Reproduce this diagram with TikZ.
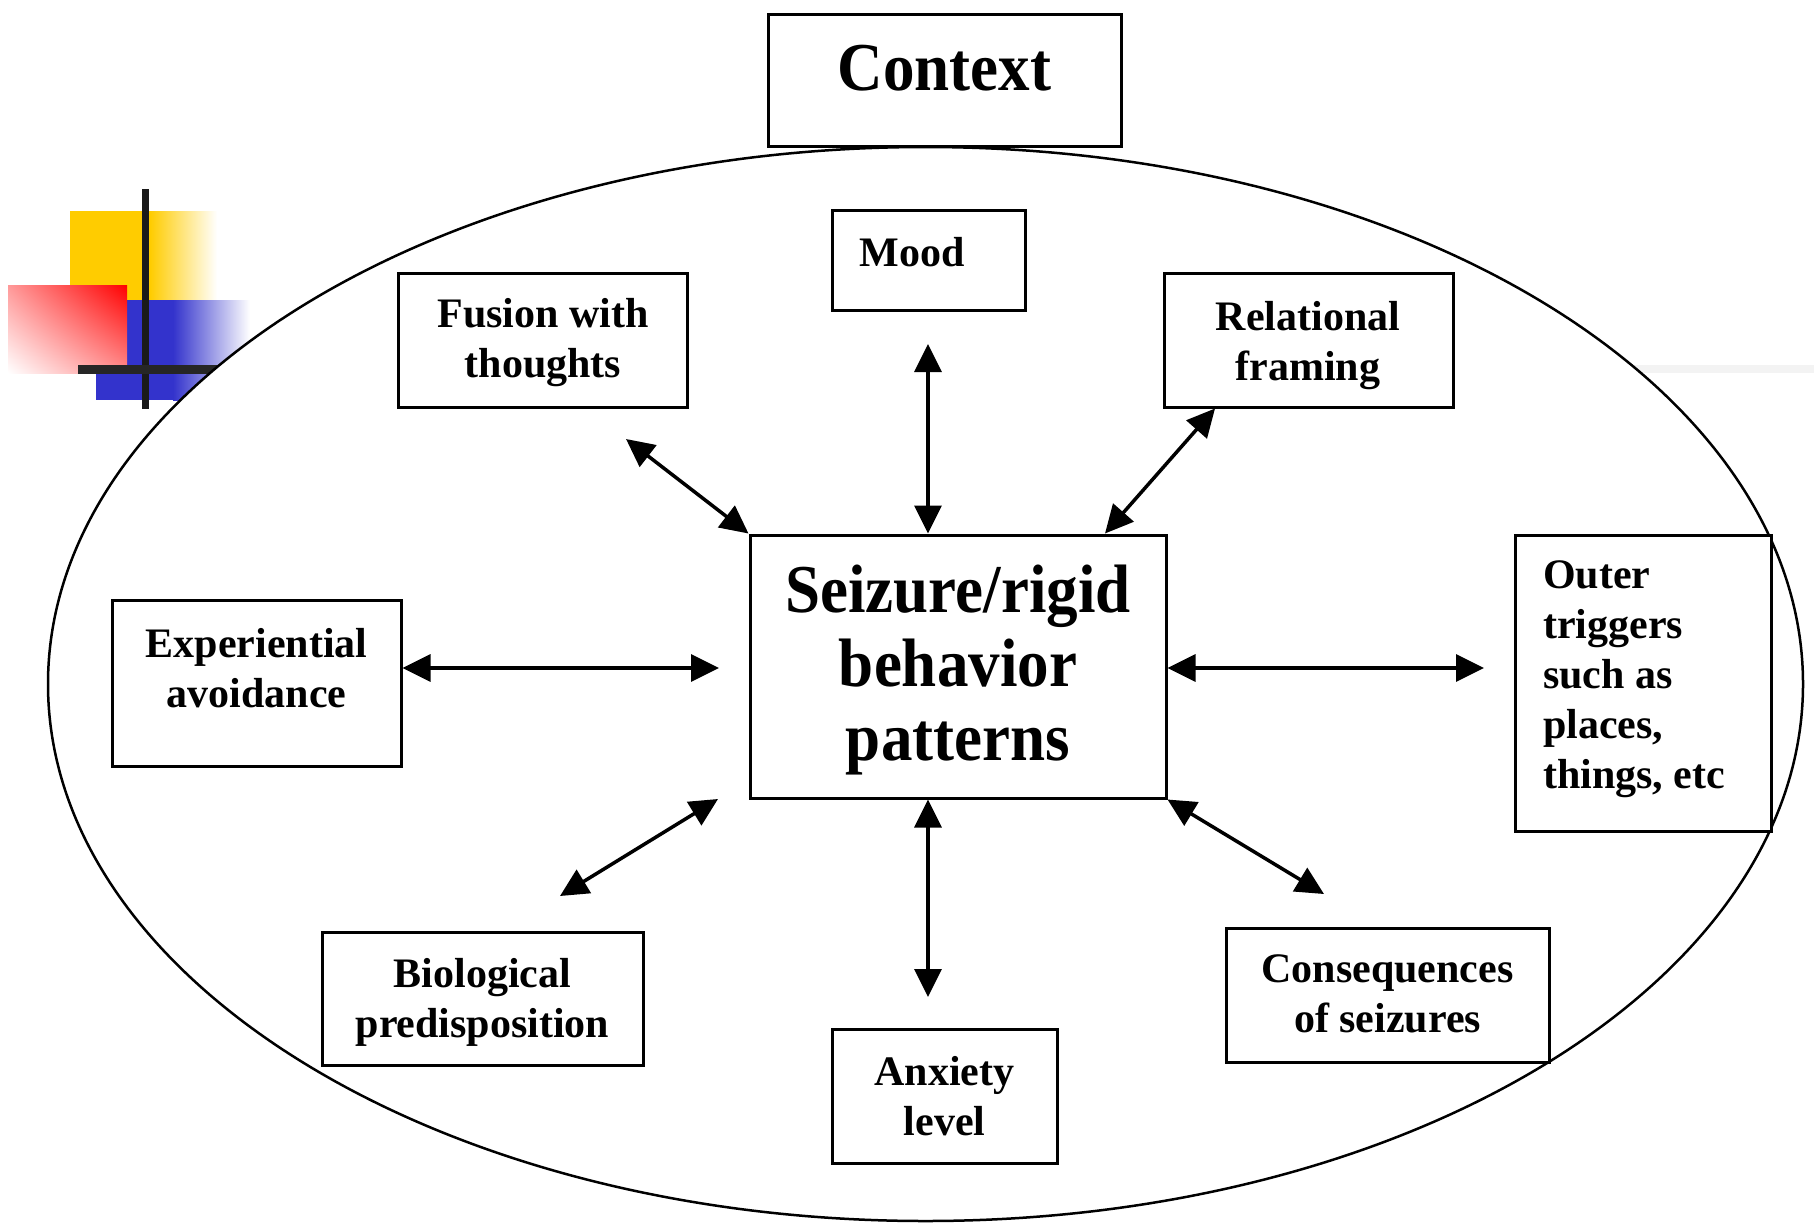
\documentclass[tikz,border=0pt]{standalone}
\usepackage{fontspec}
\setmainfont{Liberation Serif}
\newfontfamily\tallserif{Liberation Serif}[FakeStretch=0.92]
\usetikzlibrary{arrows.meta,shadings}
\definecolor{dyellow}{HTML}{FFCC00}
\definecolor{dblue}{HTML}{3333CC}
\definecolor{dbar}{HTML}{1A1A1A}
\definecolor{faint}{HTML}{F3F3F3}
\begin{document}
\begin{tikzpicture}[x=1pt,y=-1pt,
  box/.style={draw, line width=3pt, fill=white, rectangle, inner sep=0pt},
  small/.style={inner sep=0pt, align=center, font=\fontsize{42}{50}\selectfont\bfseries},
  big/.style={inner sep=0pt, align=center, font=\tallserif\fontsize{68.5}{74}\selectfont\bfseries},
  arr/.style={line width=3.5pt, {Triangle[length=28pt,width=27pt]}-{Triangle[length=28pt,width=27pt]}}
]
\useasboundingbox (0,0) rectangle (1814,1224);
\fill[white] (0,0) rectangle (1814,1224);
% template decoration
\fill[dyellow] (70,211) rectangle (150,300);
\shade[left color=dyellow, right color=white] (150,211) rectangle (217,300);
\fill[dblue] (96,300) rectangle (173,400);
\shade[left color=dblue, right color=white] (173,300) rectangle (250,400);
\shade[upper right=red, upper left=red!40!white, lower left=white, lower right=red!45!white] (8,285) rectangle (127,373);
\fill[dbar] (142,189) rectangle (149,409);
\fill[black!85] (78,365) rectangle (300,374);
\fill[faint] (1600,365) rectangle (1814,373);
% context ellipse
\draw[line width=2.5pt, fill=white] (925.5,684) ellipse [x radius=877.5, y radius=537];
% boxes
\node[box, minimum width=353pt, minimum height=132pt] (ctx) at (944.5,80) {};
\node[box, minimum width=193pt, minimum height=100pt] (mood) at (928.5,260) {};
\node[box, minimum width=289pt, minimum height=134pt] (fusion) at (542.5,340) {};
\node[box, minimum width=289pt, minimum height=134pt] (rel) at (1308.5,340) {};
\node[box, minimum width=416pt, minimum height=263pt] (center) at (958,666.5) {};
\node[box, minimum width=289pt, minimum height=166pt] (exp) at (256.5,683) {};
\node[box, minimum width=256pt, minimum height=296pt] (outer) at (1643,683) {};
\node[box, minimum width=321pt, minimum height=133pt] (bio) at (482.5,998.5) {};
\node[box, minimum width=225pt, minimum height=134pt] (anx) at (944.5,1096) {};
\node[box, minimum width=323pt, minimum height=134pt] (cons) at (1387.5,995) {};
% texts
\node[big, anchor=north] (ctxT) at (944.5,38.2) {\strut Context};
\node[small, anchor=north] (moodT) at (912,231) {\strut Mood};
\node[small, anchor=north] (fusT) at (543,292) {\strut Fusion with\\thoughts};
\node[small, anchor=north] (relT) at (1308,295) {\strut Relational\\framing};
\node[big, anchor=north] (centerT) at (958,560.2) {\strut Seizure/rigid\\behavior\\patterns};
\node[small, anchor=north] (expT) at (256.5,622) {\strut Experiential\\avoidance};
\node[small, anchor=north west, align=left] (outT) at (1543,553) {\strut Outer\\triggers\\such as\\places,\\things, etc};
\node[small, anchor=north] (bioT) at (482.5,952) {\strut Biological\\predisposition};
\node[small, anchor=north] (anxT) at (944.5,1050) {\strut Anxiety\\level};
\node[small, anchor=north] (consT) at (1387.5,947) {\strut Consequences\\of seizures};
% connector ends
\coordinate (moodA) at (928,344);
\coordinate (fusA) at (626,439);
\coordinate (relA) at (1215,407);
\coordinate (relB) at (1105,535);
\coordinate (expB) at (719,668);
\coordinate (outB) at (1484,668);
\coordinate (bioA) at (718,799);
\coordinate (bioB) at (560,896);
\coordinate (anxB) at (928,997);
\coordinate (consB) at (1324,894);
% connectors
\draw[arr] (moodA) -- (moodA |- center.north);
\draw[arr] (fusA) -- (center.north west);
\draw[arr] (relA |- rel.south) -- (relB |- center.north);
\draw[arr] (exp.east |- expB) -- (expB);
\draw[arr] (center.east |- outB) -- (outB);
\draw[arr] (bioA) -- (bioB);
\draw[arr] (anxB |- center.south) -- (anxB);
\draw[arr] (center.south east) -- (consB);
\end{tikzpicture}
\end{document}
